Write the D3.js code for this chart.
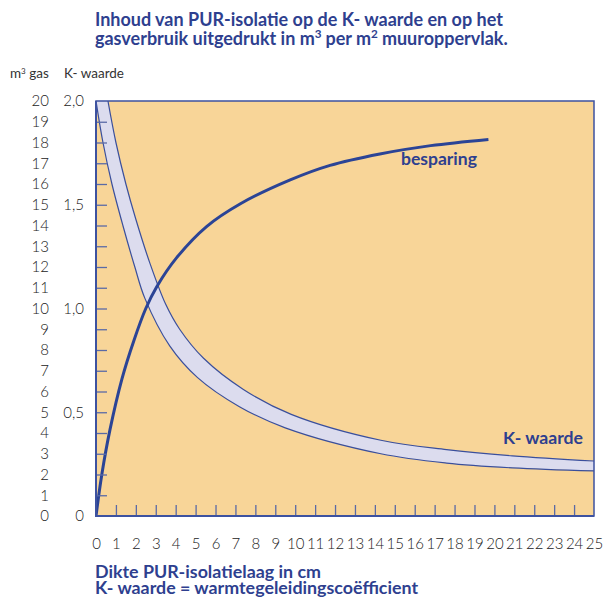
<!DOCTYPE html>
<html>
<head>
<meta charset="utf-8">
<script src="https://cdn.jsdelivr.net/npm/d3@7"></script>
<style>
  body { margin: 0; background: #fff; }
  svg text { font-family: Lato, "Open Sans", sans-serif; }
</style>
</head>
<body>
<svg id="chart" width="604" height="598"></svg>
<script>
// dikte (cm) en K-waarde, bovenrand en onderrand van de band
var kBovenDikte = [0.6, 1, 1.5, 2, 2.7, 3.5, 4.2, 5.4, 7.4, 9.8, 14.3, 17.6, 20.9, 25];
var kBoven      = [2.0, 1.80, 1.60, 1.43, 1.22, 1.02, 0.90, 0.76, 0.61, 0.49, 0.365, 0.32, 0.29, 0.265];
var kOnderDikte = [0, 0.35, 0.8, 1.35, 1.95, 2.45, 3.7, 5.1, 7.2, 9.5, 14.3, 17.6, 20.9, 25];
var kOnder      = [2.0, 1.80, 1.60, 1.40, 1.20, 1.05, 0.82, 0.667, 0.527, 0.425, 0.30, 0.255, 0.232, 0.217];

// besparing in m3 gas per m2
var besparingDikte = [0, 0.3, 0.7, 1.3, 1.9, 2.5, 3.05, 4.05, 5.55, 7.25, 9.75, 11.75, 14.25, 16.8, 19.7];
var besparing      = [0, 2.05, 4.15, 6.6, 8.45, 10.0, 11.05, 12.45, 13.95, 15.05, 16.2, 16.9, 17.45, 17.85, 18.15];

var xTicks = d3.range(0, 26);
var gasTicks = d3.range(0, 21);
var kTicks = [0, 0.5, 1, 1.5, 2];

(function() {
var blue = "#2e3f8f";
var pLeft = 96, pRight = 594, pTop = 101, pBottom = 516;

var svg = d3.select("#chart");

var x = d3.scaleLinear().domain([0, 25]).range([pLeft, pRight]);
var yGas = d3.scaleLinear().domain([0, 20]).range([pBottom, pTop]);
var yK = d3.scaleLinear().domain([0, 2]).range([pBottom, pTop]);

// tekst op breedte brengen door de lettergrootte aan te passen
function fit(sel, width) {
  var w = sel.node().getComputedTextLength();
  var fs = parseFloat(sel.attr("font-size"));
  sel.attr("font-size", (fs * width / w).toFixed(2));
}

function boldText(xp, yp) {
  return svg.append("text")
    .attr("x", xp).attr("y", yp)
    .attr("font-size", 15.5).attr("font-weight", "bold").attr("fill", blue);
}

// titel
var t1 = boldText(95, 26);
t1.append("tspan").text("Inhoud van PUR-isolatie op de K- waarde en op het");
fit(t1, 408);
var fsTitle = parseFloat(t1.attr("font-size"));
var t2 = boldText(95, 45).attr("font-size", fsTitle);
t2.append("tspan").text("gasverbruik uitgedrukt in m");
t2.append("tspan").attr("dy", -7).attr("font-size", fsTitle * 0.65).text("3");
t2.append("tspan").attr("dy", 7).attr("dx", 4).text("per m");
t2.append("tspan").attr("dy", -7).attr("font-size", fsTitle * 0.65).text("2");
t2.append("tspan").attr("dy", 7).attr("dx", 4).text("muuroppervlak.");

// kolomkoppen
var h2 = svg.append("text").attr("x", 64).attr("y", 78)
  .attr("font-size", 12).attr("fill", "#333").text("K- waarde");
fit(h2, 60);
var h1 = svg.append("text").attr("x", 10).attr("y", 78)
  .attr("font-size", h2.attr("font-size")).attr("fill", "#333");
h1.append("tspan").text("m");
h1.append("tspan").attr("dy", -4).attr("font-size", 8).text("3");
h1.append("tspan").attr("dy", 4).text(" gas");

// achtergrond
svg.append("rect")
  .attr("x", pLeft).attr("y", pTop)
  .attr("width", pRight - pLeft).attr("height", pBottom - pTop)
  .attr("fill", "#f8d598");

svg.append("clipPath").attr("id", "clip")
  .append("rect")
  .attr("x", pLeft).attr("y", pTop)
  .attr("width", pRight - pLeft).attr("height", pBottom - pTop);

// K-waarde band
var bovenPts = kBovenDikte.map(function(d, i) { return [x(d), yK(kBoven[i])]; });
var onderPts = kOnderDikte.map(function(d, i) { return [x(d), yK(kOnder[i])]; }).reverse();

var line = d3.line().curve(d3.curveCatmullRom.alpha(0.5));

svg.append("path")
  .attr("clip-path", "url(#clip)")
  .attr("d", line(bovenPts) + "L" + line(onderPts).slice(1) + "Z")
  .attr("fill", "#dcdcee")
  .attr("stroke", "none");

svg.append("path")
  .attr("clip-path", "url(#clip)")
  .attr("d", line(bovenPts))
  .attr("fill", "none").attr("stroke", "#3a4f9c").attr("stroke-width", 1.2);
svg.append("path")
  .attr("clip-path", "url(#clip)")
  .attr("d", line(onderPts))
  .attr("fill", "none").attr("stroke", "#3a4f9c").attr("stroke-width", 1.2);

// besparing lijn
var besparingLine = d3.line()
  .x(function(d, i) { return x(besparingDikte[i]); })
  .y(function(d) { return yGas(d); })
  .curve(d3.curveCatmullRom.alpha(0.5));

svg.append("path")
  .datum(besparing)
  .attr("clip-path", "url(#clip)")
  .attr("d", besparingLine)
  .attr("fill", "none")
  .attr("stroke", "#2b4496")
  .attr("stroke-width", 3);

// ticks binnen het vlak
var tickColor = "#5a6aa6";
var yTickAxis = svg.append("g")
  .attr("transform", "translate(" + pLeft + ",0)")
  .call(d3.axisRight(yGas).tickValues(gasTicks.slice(1, 20)).tickSize(11).tickFormat(""));
var xTickAxis = svg.append("g")
  .attr("transform", "translate(0," + pBottom + ")")
  .call(d3.axisTop(x).tickValues(xTicks.slice(1, 25)).tickSize(11).tickFormat(""));
[yTickAxis, xTickAxis].forEach(function(g) {
  g.select(".domain").remove();
  g.selectAll("line").attr("stroke", tickColor).attr("stroke-width", 1.3);
});

// rand
svg.append("rect")
  .attr("x", pLeft).attr("y", pTop)
  .attr("width", pRight - pLeft).attr("height", pBottom - pTop)
  .attr("fill", "none").attr("stroke", "#3d52a0").attr("stroke-width", 1.5);
svg.append("line")
  .attr("x1", pLeft).attr("x2", pLeft).attr("y1", pTop).attr("y2", pBottom + 1)
  .attr("stroke", "#3d52a0").attr("stroke-width", 2);
svg.append("line")
  .attr("x1", pLeft - 1).attr("x2", pRight).attr("y1", pBottom).attr("y2", pBottom)
  .attr("stroke", "#3d52a0").attr("stroke-width", 2);

// labels assen
function styleLabels(g) {
  g.select(".domain").remove();
  g.selectAll(".tick line").remove();
  g.selectAll("text")
    .attr("font-family", "Lato, 'Open Sans', sans-serif")
    .attr("font-size", 15)
    .attr("font-weight", 300)
    .attr("fill", "#222");
}

svg.append("g")
  .attr("transform", "translate(49,0)")
  .call(d3.axisLeft(yGas).tickValues(gasTicks).tickSize(0).tickPadding(0).tickFormat(d3.format("d")))
  .call(styleLabels);

svg.append("g")
  .attr("transform", "translate(84,0)")
  .call(d3.axisLeft(yK).tickValues(kTicks).tickSize(0).tickPadding(0)
    .tickFormat(function(d) { return d === 0 ? "0" : d3.format(".1f")(d).replace(".", ","); }))
  .call(styleLabels);

svg.append("g")
  .attr("transform", "translate(0,538)")
  .call(d3.axisBottom(x).tickValues(xTicks).tickSize(0).tickPadding(0).tickFormat(d3.format("d")))
  .call(styleLabels);

// serie labels
var l1 = boldText(401, 165).text("besparing");
fit(l1, 76);
var l2 = boldText(503, 444).text("K- waarde");
fit(l2, 80);

// onderschrift
var o1 = boldText(95, 578).text("Dikte PUR-isolatielaag in cm");
fit(o1, 226);
boldText(95, 594).text("K- waarde = warmtegeleidingscoëfficient")
  .attr("font-size", o1.attr("font-size"));
})();
</script>
</body>
</html>
